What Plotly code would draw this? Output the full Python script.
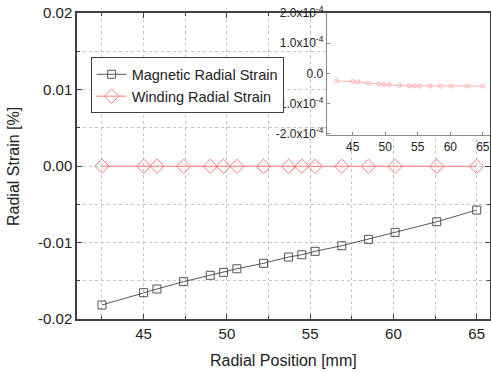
import plotly.graph_objects as go

# Data
radial_pos = [42.5, 45.0, 45.8, 47.4, 49.0, 49.8, 50.6, 52.2, 53.7, 54.5, 55.3, 56.9, 58.5, 60.1, 62.6, 65.0]
magnetic_strain = [-0.01817, -0.01656, -0.01608, -0.01512, -0.01429, -0.01390, -0.01343, -0.01272,
                   -0.01190, -0.01160, -0.01115, -0.01042, -0.00959, -0.00867, -0.00729, -0.00576]
winding_strain = [-0.245e-4, -0.267e-4, -0.278e-4, -0.322e-4, -0.355e-4, -0.366e-4, -0.377e-4, -0.400e-4,
                  -0.410e-4, -0.410e-4, -0.420e-4, -0.420e-4, -0.420e-4, -0.420e-4, -0.420e-4, -0.420e-4]

x_ticks = [45, 50, 55, 60, 65]
y_ticks = [0.02, 0.01, 0.0, -0.01, -0.02]
y_ticklabels = ["0.02", "0.01", "0.00", "-0.01", "-0.02"]
inset_y_ticks = [2e-4, 1e-4, 0.0, -1e-4, -2e-4]
inset_y_ticklabels = ["2.0x10<sup>-4</sup>", "1.0x10<sup>-4</sup>", "0.0",
                      "-1.0x10<sup>-4</sup>", "-2.0x10<sup>-4</sup>"]
x_title = "Radial Position [mm]"
y_title = "Radial Strain [%]"

FONT = "Liberation Sans, Arial, sans-serif"
AXIS = "#404040"
GRID = "#c4c4c4"
GRAY = "#555555"
PINK = "#ff7a7a"
PINK_LIGHT = "#ffb0b0"
TXT = "#222222"

fig = go.Figure()
fig.add_trace(go.Scatter(
    x=radial_pos, y=magnetic_strain, mode="lines+markers", name="Magnetic Radial Strain",
    line=dict(color=GRAY, width=1),
    marker=dict(symbol="square-open", size=8, color=GRAY, line=dict(width=1, color=GRAY)),
    xaxis="x", yaxis="y"))
fig.add_trace(go.Scatter(
    x=radial_pos, y=winding_strain, mode="lines+markers", name="Winding Radial Strain",
    line=dict(color=PINK, width=1),
    marker=dict(symbol="diamond-open", size=11, color=PINK, line=dict(width=1, color=PINK)),
    xaxis="x", yaxis="y"))
fig.add_trace(go.Scatter(
    x=radial_pos, y=winding_strain, mode="lines+markers", showlegend=False,
    line=dict(color=PINK_LIGHT, width=1),
    marker=dict(symbol="circle-open", size=4, color=PINK_LIGHT, line=dict(width=1, color=PINK_LIGHT)),
    xaxis="x2", yaxis="y2"))

fig.update_layout(
    width=491, height=373,
    margin=dict(l=77, r=1, t=13, b=54, autoexpand=False),
    paper_bgcolor="white", plot_bgcolor="white",
    font=dict(family=FONT, size=15, color=TXT),
    showlegend=True,
    legend=dict(x=0.033, y=0.855, xanchor="left", yanchor="top",
                bgcolor="white", bordercolor=AXIS, borderwidth=1,
                font=dict(size=14.5, family=FONT, color=TXT),
                tracegroupgap=0, itemwidth=30),
    xaxis=dict(
        domain=[0, 1], range=[41.0, 65.8], automargin=False,
        tickmode="array", tickvals=x_ticks, ticktext=[str(v) for v in x_ticks],
        ticks="inside", ticklen=5, tickcolor=AXIS, tickwidth=1,
        showline=True, linecolor=AXIS, linewidth=1.5, mirror="ticks",
        showgrid=True, gridcolor=GRID, griddash="dot", gridwidth=1,
        minor=dict(dtick=2.5, tick0=40, ticks="inside", ticklen=3, tickcolor=AXIS,
                   showgrid=True, gridcolor=GRID, griddash="dot", gridwidth=1),
        zeroline=False,
        tickfont=dict(size=15, family=FONT, color=TXT),
    ),
    yaxis=dict(
        domain=[0, 1], range=[-0.02, 0.02], automargin=False,
        tickmode="array", tickvals=y_ticks, ticktext=y_ticklabels,
        ticks="inside", ticklen=5, tickcolor=AXIS, tickwidth=1,
        showline=True, linecolor=AXIS, linewidth=1.5, mirror="ticks",
        showgrid=True, gridcolor=GRID, griddash="dot", gridwidth=1,
        minor=dict(dtick=0.005, tick0=0, ticks="inside", ticklen=3, tickcolor=AXIS,
                   showgrid=True, gridcolor=GRID, griddash="dot", gridwidth=1),
        zeroline=False,
        tickfont=dict(size=15, family=FONT, color=TXT),
    ),
    xaxis2=dict(
        domain=[0.6046, 1.0], range=[41.0, 66.1], anchor="y2", automargin=False,
        tickmode="array", tickvals=x_ticks, ticktext=[str(v) for v in x_ticks],
        ticks="inside", ticklen=3, tickcolor="#888888",
        showline=True, linecolor="#8a8a8a", linewidth=1,
        showgrid=False, zeroline=False,
        tickfont=dict(size=12, family=FONT, color=TXT),
    ),
    yaxis2=dict(
        domain=[0.6, 1.0], range=[-2.05e-4, 2.0e-4], anchor="x2", automargin=False,
        tickmode="array", tickvals=inset_y_ticks, ticktext=inset_y_ticklabels,
        ticks="inside", ticklen=3, tickcolor="#888888",
        showline=True, linecolor="#8a8a8a", linewidth=1,
        showgrid=False, zeroline=False,
        tickfont=dict(size=12, family=FONT, color=TXT),
    ),
    annotations=[
        dict(text=x_title, xref="paper", yref="paper", x=0.5, y=-0.137,
             xanchor="center", yanchor="middle", showarrow=False,
             font=dict(size=16, family=FONT, color=TXT)),
        dict(text=y_title, xref="paper", yref="paper", x=-0.155, y=0.5,
             xanchor="center", yanchor="middle", textangle=-90, showarrow=False,
             font=dict(size=16, family=FONT, color=TXT)),
    ],
)

fig.write_html("out.html", config={"displayModeBar": False},
               post_script="document.body.style.margin='0';")
